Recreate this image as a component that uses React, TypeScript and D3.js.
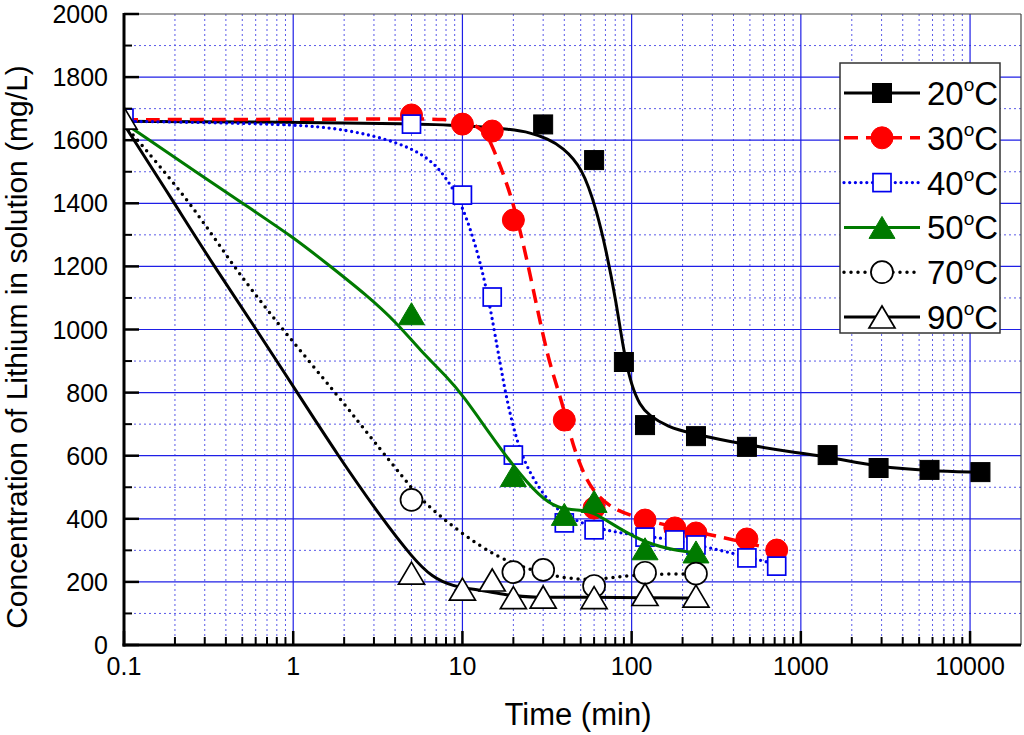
import * as d3 from 'd3'

// measured points (time in min, Li concentration in mg/L)
const t20 = [30, 60, 90, 120, 240, 480, 1440, 2880, 5760, 11520]
const c20 = [1650, 1537, 897, 697, 662, 628, 602, 561, 555, 548]

const t30 = [5, 10, 15, 20, 40, 60, 120, 180, 240, 480, 720]
const c30 = [1680, 1651, 1629, 1347, 713, 434, 396, 371, 355, 336, 301]

const t40 = [0.1, 5, 10, 15, 20, 40, 60, 120, 180, 240, 480, 720]
const c40 = [1670, 1651, 1426, 1103, 602, 387, 365, 342, 333, 317, 276, 250]

const t50 = [5, 20, 40, 60, 120, 240]
const c50 = [1050, 537, 414, 455, 305, 295]

const t70 = [5, 20, 30, 60, 120, 240]
const c70 = [460, 231, 238, 187, 229, 226]

const t90 = [0.1, 5, 10, 15, 20, 30, 60, 120, 240]
const c90 = [1670, 228, 177, 206, 150, 152, 150, 160, 155]

// fitted curves
const fit20: [number, number][] = [
    [0.1, 1660], [1, 1657], [5, 1652], [10, 1647], [20, 1634], [25, 1624],
    [32, 1605], [39, 1578], [51, 1515], [62, 1379], [70.6, 1252], [80.8, 1093],
    [90, 925], [100, 820], [112, 760], [126, 728], [165, 691], [218, 672],
    [475, 634], [980, 608], [1470, 596], [2900, 564], [5770, 552], [11000, 548],
]
const fit30: [number, number][] = [
    [0.1, 1665], [1, 1666], [5, 1668], [8, 1666], [10, 1660], [12, 1648], [14, 1620],
    [16, 1545], [20, 1410], [25.6, 1157], [32, 903], [38.6, 777], [44, 650],
    [50, 565], [58, 491], [77, 428], [120, 398], [156, 380], [340, 342],
    [610, 310], [720, 300],
]
const fit40: [number, number][] = [
    [0.1, 1660], [1, 1652], [2.07, 1634], [4.1, 1596], [6.4, 1544], [8.1, 1478],
    [10, 1396], [12.6, 1230], [14.6, 1071], [16.1, 940], [17.3, 849], [18.3, 777],
    [21.8, 605], [28.6, 491], [36, 428], [50, 385], [77, 358], [120, 345],
    [180, 333], [240, 318], [480, 280], [720, 255],
]
const fit50: [number, number][] = [
    [0.1, 1655], [0.5, 1400], [1, 1293], [1.65, 1201], [2.7, 1110], [4.1, 1021],
    [5.6, 935], [8.1, 850], [10.1, 790], [14.5, 670], [19.8, 570], [28.6, 469],
    [37, 432], [48, 428], [58, 425], [84, 370], [121, 323], [190, 297], [260, 292],
]
const fit70: [number, number][] = [
    [0.1, 1650], [0.245, 1407], [0.44, 1201], [0.87, 998], [1.8, 796], [3.36, 612],
    [4.9, 505], [5.8, 455], [9.6, 358], [15.9, 279], [25, 238], [39, 212],
    [58, 206], [84, 216], [121, 225], [240, 225],
]
const fit90: [number, number][] = [
    [0.1, 1650], [0.195, 1407], [0.34, 1201], [0.61, 998], [1.05, 802], [1.83, 602],
    [3.36, 399], [5.1, 275], [6.6, 215], [8.8, 185], [12.6, 175], [18.3, 158],
    [26, 150], [58, 152], [121, 149], [240, 149],
]

const xTicks = [0.1, 1, 10, 100, 1000, 10000]
const xTickLabels = ['0.1', '1', '10', '100', '1000', '10000']
const yTicks = [0, 200, 400, 600, 800, 1000, 1200, 1400, 1600, 1800, 2000]
const legendLabels = ['20', '30', '40', '50', '70', '90']

const W = 1024
const H = 735
const L = 124, R = 1021, T = 14, B = 645
const FONT = 'Liberation Sans, Arial, sans-serif'
const GRID = '#1f1fe6'
const GRID_MINOR = '#5a5ae8'

type Marker = 'sq' | 'circle' | 'tri'
interface Series {
    t: number[]
    c: number[]
    fit: [number, number][]
    color: string
    dash?: string
    width: number
    marker: Marker
    fill: string
    stroke: string
}

const series: Series[] = [
    { t: t20, c: c20, fit: fit20, color: '#000', width: 3, marker: 'sq', fill: '#000', stroke: '#000' },
    { t: t30, c: c30, fit: fit30, color: '#ff0000', dash: '14,8', width: 3.5, marker: 'circle', fill: '#ff0000', stroke: '#ff0000' },
    { t: t40, c: c40, fit: fit40, color: '#0000ee', dash: '0,5.7', width: 3.3, marker: 'sq', fill: '#fff', stroke: '#0000ee' },
    { t: t50, c: c50, fit: fit50, color: '#007a00', width: 3, marker: 'tri', fill: '#007a00', stroke: '#007a00' },
    { t: t70, c: c70, fit: fit70, color: '#000', dash: '0,7', width: 3.5, marker: 'circle', fill: '#fff', stroke: '#000' },
    { t: t90, c: c90, fit: fit90, color: '#000', width: 3, marker: 'tri', fill: '#fff', stroke: '#000' },
]

function MarkerShape({ s, cx, cy }: { s: Series; cx: number; cy: number }) {
    const open = s.fill === '#fff'
    const sw = open ? 1.7 : 1
    if (s.marker === 'sq') {
        const a = open ? 18 : 19
        return <rect x={cx - a / 2} y={cy - a / 2} width={a} height={a} fill={s.fill} stroke={s.stroke} strokeWidth={sw} />
    }
    if (s.marker === 'circle') {
        return <circle cx={cx} cy={cy} r={11} fill={s.fill} stroke={s.stroke} strokeWidth={sw} />
    }
    return (
        <path
            d={`M${cx},${cy - 11}L${cx + 13},${cy + 11}L${cx - 13},${cy + 11}Z`}
            fill={s.fill}
            stroke={s.stroke}
            strokeWidth={sw}
        />
    )
}

export default function App() {
    const x = d3.scaleLog().domain([0.1, 20000]).range([L, R])
    const y = d3.scaleLinear().domain([0, 2000]).range([B, T])

    const line = d3
        .line<[number, number]>()
        .x((d) => x(d[0]))
        .y((d) => y(d[1]))
        .curve(d3.curveBasis)

    const minorX: number[] = []
    for (let dec = 0.1; dec < 10000; dec *= 10) {
        for (let k = 2; k <= 9; k++) minorX.push(+(dec * k).toPrecision(6))
    }
    const minorY = d3.range(100, 2000, 200)

    return (
        <svg width={W} height={H} style={{ position: 'absolute', left: 0, top: 0, background: '#fff' }} fontFamily={FONT}>
            <defs>
                <clipPath id="plot">
                    <rect x={L} y={T} width={R - L} height={B - T} />
                </clipPath>
            </defs>
            <rect x={0} y={0} width={W} height={H} fill="#fff" />

            {/* grid */}
            <g>
                {minorX.map((v) => (
                    <line key={'mx' + v} x1={x(v)} x2={x(v)} y1={T} y2={B} stroke={GRID_MINOR} strokeWidth={1} strokeDasharray="2,3" />
                ))}
                {minorY.map((v) => (
                    <line key={'my' + v} x1={L} x2={R} y1={y(v)} y2={y(v)} stroke={GRID_MINOR} strokeWidth={1} strokeDasharray="2,3" />
                ))}
                {xTicks.slice(1).map((v) => (
                    <line key={'gx' + v} x1={x(v)} x2={x(v)} y1={T} y2={B} stroke={GRID} strokeWidth={1.2} />
                ))}
                {yTicks.slice(1, -1).map((v) => (
                    <line key={'gy' + v} x1={L} x2={R} y1={y(v)} y2={y(v)} stroke={GRID} strokeWidth={1.2} />
                ))}
            </g>

            {/* frame */}
            <line x1={L} x2={R} y1={T} y2={T} stroke="#444" strokeWidth={1.2} />
            <line x1={R} x2={R} y1={T} y2={B} stroke="#444" strokeWidth={1.2} />

            {/* data */}
            <g clipPath="url(#plot)">
                {series.map((s, i) => (
                    <g key={i}>
                        <path
                            d={line(s.fit) ?? ''}
                            fill="none"
                            stroke={s.color}
                            strokeWidth={s.width}
                            strokeDasharray={s.dash}
                            strokeLinecap={s.dash && s.dash.startsWith('0') ? 'round' : 'butt'}
                        />
                        {s.t.map((t, j) => (
                            <MarkerShape key={j} s={s} cx={x(t)} cy={y(s.c[j])} />
                        ))}
                    </g>
                ))}
            </g>

            {/* axes */}
            <line x1={L} x2={L} y1={T - 1} y2={B + 1.5} stroke="#000" strokeWidth={3} />
            <line x1={L - 1.5} x2={R} y1={B} y2={B} stroke="#000" strokeWidth={3} />
            {xTicks.map((v) => (
                <line key={'tx' + v} x1={x(v)} x2={x(v)} y1={B} y2={B - 14} stroke="#000" strokeWidth={2.5} />
            ))}
            {minorX.map((v) => (
                <line key={'tmx' + v} x1={x(v)} x2={x(v)} y1={B} y2={B - 8} stroke="#000" strokeWidth={2} />
            ))}
            {yTicks.map((v) => (
                <line key={'ty' + v} x1={L} x2={L + 15} y1={y(v)} y2={y(v)} stroke="#000" strokeWidth={2.5} />
            ))}
            {minorY.map((v) => (
                <line key={'tmy' + v} x1={L} x2={L + 8} y1={y(v)} y2={y(v)} stroke="#000" strokeWidth={2} />
            ))}

            {/* tick labels */}
            {xTicks.map((v, i) => (
                <text key={'lx' + v} x={x(v)} y={675} textAnchor="middle" fontSize={25}>
                    {xTickLabels[i]}
                </text>
            ))}
            {yTicks.map((v) => (
                <text key={'ly' + v} x={108} y={y(v) + 9} textAnchor="end" fontSize={25}>
                    {v}
                </text>
            ))}

            {/* axis titles */}
            <text x={578} y={725} textAnchor="middle" fontSize={31}>
                Time (min)
            </text>
            <text transform="translate(27,347) rotate(-90)" textAnchor="middle" fontSize={30}>
                Concentration of Lithium in solution (mg/L)
            </text>

            {/* legend */}
            <g>
                <rect x={840} y={63} width={160} height={270} fill="#fff" stroke="#333" strokeWidth={1.5} />
                {series.map((s, i) => {
                    const cy = 93 + i * 44.8
                    return (
                        <g key={'lg' + i}>
                            <line
                                x1={844}
                                x2={920}
                                y1={cy}
                                y2={cy}
                                stroke={s.color}
                                strokeWidth={s.width}
                                strokeDasharray={s.dash}
                                strokeLinecap={s.dash && s.dash.startsWith('0') ? 'round' : 'butt'}
                            />
                            <MarkerShape s={s} cx={882} cy={cy} />
                            <text x={927} y={cy + 12} fontSize={33}>
                                {legendLabels[i]}
                                <tspan dy={-14} fontSize={19}>o</tspan>
                                <tspan dy={14}>C</tspan>
                            </text>
                        </g>
                    )
                })}
            </g>
        </svg>
    )
}
